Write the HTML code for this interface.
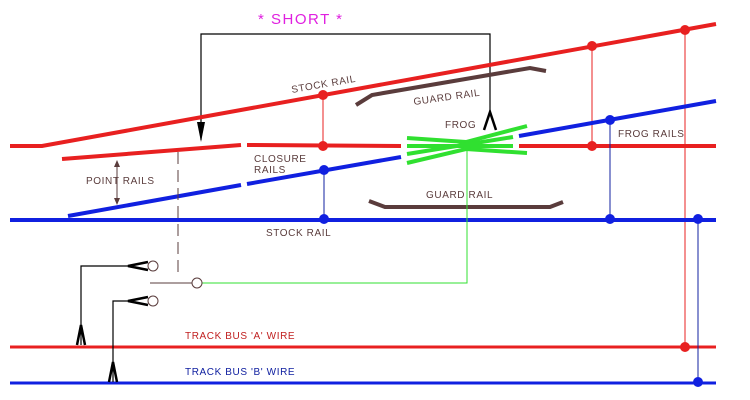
<!DOCTYPE html>
<html><head><style>body{margin:0;background:#fff}svg{display:block}text{font-family:"Liberation Sans",sans-serif;font-size:10px;fill:#5a3c3c;letter-spacing:0.6px}</style></head>
<body>
<svg width="750" height="400" viewBox="0 0 750 400" xmlns="http://www.w3.org/2000/svg">
<rect width="750" height="400" fill="#fff"/>
<text x="258" y="24" style="font-size:15px;fill:#e020e0;letter-spacing:1.5px">* SHORT *</text>
<polyline points="201,140 201,34 490,34 490,112" fill="none" stroke="#000" stroke-width="1.2"/>
<polygon points="197,122 205,122 201,142" fill="#000"/>
<path d="M484,130 L490,112 L496,130" fill="none" stroke="#000" stroke-width="2.5"/>
<polyline points="10,146 42,146 716,24" fill="none" stroke="#e82020" stroke-width="4"/>
<line x1="62" y1="159" x2="241" y2="145" stroke="#e82020" stroke-width="4"/>
<line x1="247" y1="145" x2="401" y2="146" stroke="#e82020" stroke-width="4"/>
<line x1="519" y1="146" x2="716" y2="146" stroke="#e82020" stroke-width="4"/>
<line x1="10" y1="347" x2="716" y2="347" stroke="#e82020" stroke-width="3"/>
<line x1="323" y1="95" x2="323" y2="146" stroke="#e82020" stroke-width="1"/>
<line x1="592" y1="46" x2="592" y2="146" stroke="#e82020" stroke-width="1"/>
<line x1="685" y1="30" x2="685" y2="347" stroke="#e82020" stroke-width="1"/>
<g fill="#e82020"><circle cx="323" cy="95" r="5"/><circle cx="323" cy="146" r="5"/><circle cx="592" cy="46" r="5"/><circle cx="592" cy="146" r="5"/><circle cx="685" cy="30" r="5"/><circle cx="685" cy="347" r="5"/></g>
<line x1="10" y1="220" x2="716" y2="220" stroke="#1020e0" stroke-width="4"/>
<line x1="68" y1="216" x2="241" y2="185" stroke="#1020e0" stroke-width="4"/>
<line x1="247" y1="184" x2="401" y2="157" stroke="#1020e0" stroke-width="4"/>
<line x1="519" y1="136" x2="716" y2="101" stroke="#1020e0" stroke-width="4"/>
<line x1="10" y1="383" x2="716" y2="383" stroke="#1020e0" stroke-width="3"/>
<line x1="324" y1="170" x2="324" y2="220" stroke="#1020a0" stroke-width="1"/>
<line x1="610" y1="120" x2="610" y2="220" stroke="#1020a0" stroke-width="1"/>
<line x1="698" y1="220" x2="698" y2="383" stroke="#1020a0" stroke-width="1"/>
<g fill="#1020e0"><circle cx="324" cy="170" r="5"/><circle cx="324" cy="219" r="5"/><circle cx="610" cy="120" r="5"/><circle cx="610" cy="219" r="5"/><circle cx="698" cy="219" r="5"/><circle cx="698" cy="382" r="5"/></g>
<polyline points="356,105 372,95 530,68 546,71" fill="none" stroke="#5a3c3c" stroke-width="4"/>
<polyline points="369,201 385,207 550,207 563,202" fill="none" stroke="#5a3c3c" stroke-width="4"/>
<g stroke="#30e030" stroke-width="4" fill="none">
<polyline points="407,138 466,142 527,126"/>
<line x1="407" y1="146" x2="513" y2="146"/>
<line x1="407" y1="154" x2="513" y2="137"/>
<polyline points="407,163 466,149 527,153"/>
</g>
<circle cx="467" cy="146" r="4" fill="#30e030"/>
<polyline points="467,146 467,283 202,283" fill="none" stroke="#30e030" stroke-width="1"/>
<circle cx="197" cy="283" r="5" fill="#fff" stroke="#5a3c3c" stroke-width="1"/>
<line x1="150" y1="283" x2="192" y2="283" stroke="#5a3c3c" stroke-width="1"/>
<line x1="178" y1="152" x2="178" y2="278" stroke="#5a3c3c" stroke-width="1" stroke-dasharray="12,6"/>
<line x1="117" y1="163" x2="117" y2="201" stroke="#5a3c3c" stroke-width="1"/>
<polygon points="114,167 120,167 117,160" fill="#5a3c3c"/><polygon points="114,198 120,198 117,205" fill="#5a3c3c"/>
<g stroke="#000" stroke-width="1.2" fill="none">
<polyline points="128,266 81,266 81,345"/>
<polyline points="128,301 113,301 113,382"/>
<path d="M148,262 L128,266 L148,270" stroke-width="2.5"/>
<path d="M148,297 L128,301 L148,305" stroke-width="2.5"/>
<path d="M77,345 L81,325 L85,345" stroke-width="2.5"/>
<path d="M109,382 L113,362 L117,382" stroke-width="2.5"/>
</g>
<circle cx="153" cy="266" r="5" fill="#fff" stroke="#5a3c3c"/>
<circle cx="153" cy="301" r="5" fill="#fff" stroke="#5a3c3c"/>
<text x="292" y="93" transform="rotate(-10 292 93)">STOCK RAIL</text>
<text x="414" y="105" transform="rotate(-8 414 105)">GUARD RAIL</text>
<text x="445" y="128">FROG</text>
<text x="618" y="137">FROG RAILS</text>
<text x="254" y="162">CLOSURE</text>
<text x="254" y="173">RAILS</text>
<text x="86" y="184">POINT RAILS</text>
<text x="426" y="198">GUARD RAIL</text>
<text x="266" y="236">STOCK RAIL</text>
<text x="185" y="339" style="fill:#c02020">TRACK BUS 'A' WIRE</text>
<text x="185" y="375" style="fill:#1020a0">TRACK BUS 'B' WIRE</text>
</svg>
</body></html>
